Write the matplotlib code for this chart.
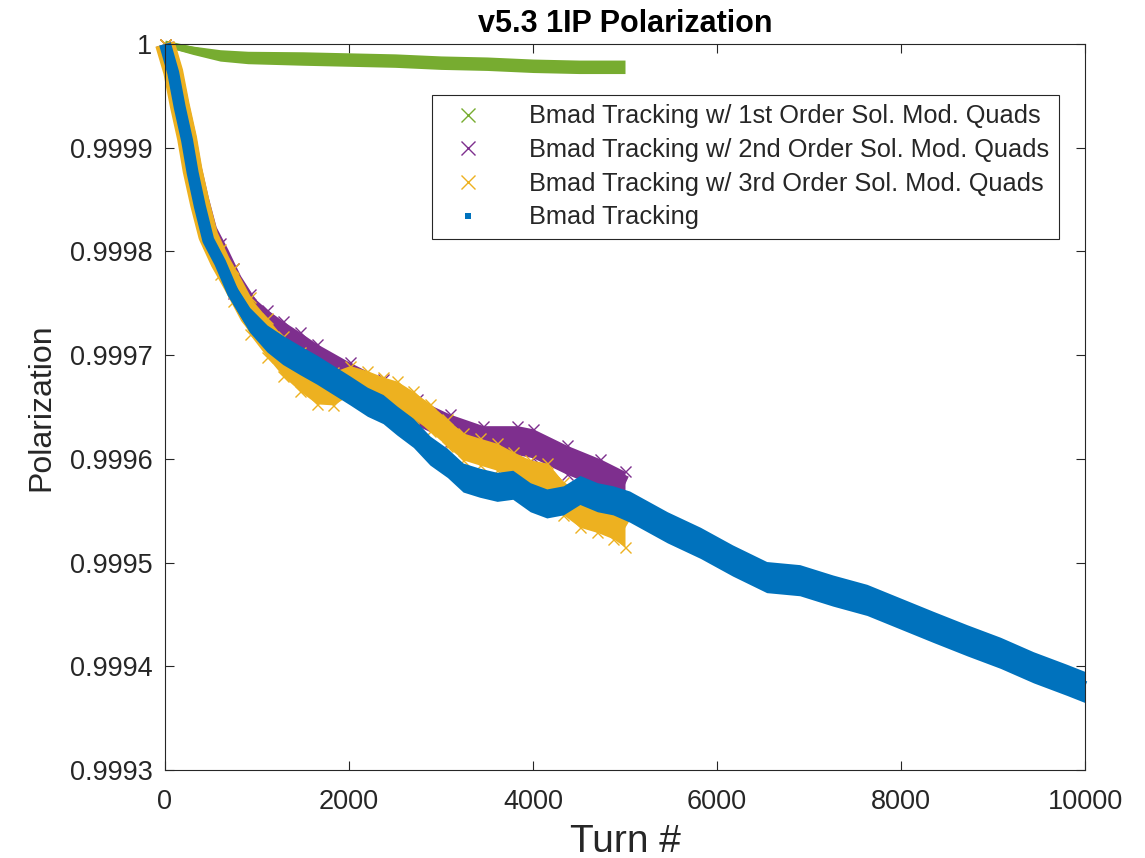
import numpy as np
import matplotlib
matplotlib.use("Agg")
import matplotlib.pyplot as plt
from matplotlib.lines import Line2D

plt.rcParams['font.family'] = ['Liberation Sans', 'DejaVu Sans']

# ---------------- data ----------------
title = "v5.3 1IP Polarization"
xlabel = "Turn #"
ylabel = "Polarization"
labels = ["Bmad Tracking w/ 1st Order Sol. Mod. Quads",
          "Bmad Tracking w/ 2nd Order Sol. Mod. Quads",
          "Bmad Tracking w/ 3rd Order Sol. Mod. Quads",
          "Bmad Tracking"]
xticks = [0, 2000, 4000, 6000, 8000, 10000]
yticks = [0.9993, 0.9994, 0.9995, 0.9996, 0.9997, 0.9998, 0.9999, 1.0]
yticklabels = ["0.9993", "0.9994", "0.9995", "0.9996", "0.9997", "0.9998", "0.9999", "1"]

# 1st order (green): centre of the scatter band and its half-spread
turns_1st = [0, 100, 300, 600, 900, 1500, 2000, 2500, 3000, 3500, 4000, 4500, 5000]
pol_1st = [1.0, 0.999998, 0.999994, 0.999989, 0.999987, 0.999986, 0.999985,
           0.999984, 0.999982, 0.999981, 0.999979, 0.999978, 0.999978]
spread_1st = [0.000002, 0.000003, 0.000004, 0.0000055, 0.000006, 0.0000065, 0.0000065,
              0.0000065, 0.0000065, 0.0000065, 0.0000065, 0.0000065, 0.0000065]

# 2nd order (purple)
turns_2nd = [0, 90, 160, 240, 300, 380, 470, 600, 740, 920, 1110, 1280, 1470,
             1650, 2010, 2370, 2740, 3100, 3460, 3830, 4000, 4370, 4730, 5000]
pol_2nd = [1.0, 0.999974, 0.999943, 0.999911, 0.999881, 0.999850, 0.999820,
           0.999798, 0.999772, 0.999747, 0.999732, 0.999721, 0.999709, 0.999698,
           0.999680, 0.999664, 0.999645, 0.999630, 0.999618, 0.999618, 0.999615,
           0.999599, 0.999586, 0.999575]
spread_2nd = [0.0, 0.0, 0.0, 0.0, 0.0, 0.0, 0.000004, 0.00001, 0.000012,
              0.000012, 0.000012, 0.000012, 0.000013, 0.000013, 0.000013,
              0.000013, 0.000013, 0.000013, 0.000014, 0.000014, 0.000014,
              0.000014, 0.000014, 0.000013]

# 3rd order (orange)
turns_3rd = [0, 90, 160, 240, 300, 380, 470, 600, 740, 920, 1110, 1280, 1470,
             1650, 1830, 2010, 2200, 2370, 2520, 2700, 2880, 3070, 3240, 3420,
             3610, 3780, 3970, 4150, 4330, 4510, 4700, 4870, 5000]
pol_3rd = [1.0, 0.999973, 0.999941, 0.999909, 0.999878, 0.999846, 0.999815,
           0.999790, 0.999768, 0.999738, 0.999717, 0.999699, 0.999684, 0.999671,
           0.999668, 0.999676, 0.999672, 0.999666, 0.999662, 0.999652, 0.999640,
           0.999625, 0.999612, 0.999607, 0.999602, 0.999594, 0.999586, 0.999582,
           0.999562, 0.999551, 0.999546, 0.999540, 0.999533]
spread_3rd = [0.0, 0.0, 0.0, 0.0, 0.0, 0.0, 0.000006, 0.000012, 0.000016,
              0.000018, 0.000019, 0.000019, 0.000019, 0.000018, 0.000016,
              0.000014, 0.000013, 0.000013, 0.000013, 0.000013, 0.000013,
              0.000013, 0.000013, 0.000013, 0.000013, 0.000013, 0.000013,
              0.000014, 0.000016, 0.000017, 0.000017, 0.000017, 0.000018]

# plain tracking (blue)
turns_trk = [0, 90, 160, 240, 300, 380, 470, 600, 740, 920, 1110, 1280, 1470,
             1650, 1830, 2010, 2200, 2370, 2520, 2700, 2880, 3070, 3240, 3420,
             3610, 3780, 3970, 4150, 4330, 4510, 4700, 4870, 5050, 5460, 5820,
             6170, 6540, 6900, 7260, 7630, 7990, 8350, 8720, 9080, 9440, 9800,
             10000]
pol_trk = [1.0, 0.999972, 0.999939, 0.999907, 0.999876, 0.999843, 0.999811,
           0.999789, 0.999760, 0.999734, 0.999716, 0.999705, 0.999695, 0.999686,
           0.999676, 0.999666, 0.999655, 0.999648, 0.999637, 0.999625, 0.999608,
           0.999596, 0.999582, 0.999577, 0.999573, 0.999575, 0.999563, 0.999557,
           0.999560, 0.999570, 0.999563, 0.999560, 0.999554, 0.999534, 0.999519,
           0.999502, 0.999486, 0.999483, 0.999473, 0.999464, 0.999451, 0.999438,
           0.999425, 0.999413, 0.999399, 0.999387, 0.999380]
spread_trk = [0.0, 0.0, 0.0, 0.0, 0.0, 0.0, 0.000005, 0.000009, 0.000011,
              0.000012, 0.000013, 0.000014, 0.000014, 0.000014, 0.000014,
              0.000014, 0.000014, 0.000014, 0.000014, 0.000014, 0.000014,
              0.000014, 0.000014, 0.000014, 0.000014, 0.000014, 0.000014,
              0.000014, 0.000014, 0.000014, 0.000014, 0.000014, 0.000015,
              0.000015, 0.000015, 0.000015, 0.000015, 0.000015, 0.000015,
              0.000015, 0.000015, 0.000015, 0.000015, 0.000015, 0.000015,
              0.000015, 0.000015]

c_green = "#77AC30"
c_purple = "#7E2F8E"
c_orange = "#EDB120"
c_blue = "#0072BD"
dark = "#262626"

PX = 0.72  # points per pixel at dpi 100

fig = plt.figure(figsize=(11.45, 8.58), dpi=100)
ax = fig.add_axes([165 / 1145, 1 - 770 / 858, 920 / 1145, 726 / 858])


def band(turns, vals, spread, color, lw_px, marker, ms_px, z):
    t = np.asarray(turns, dtype=float)
    v = np.asarray(vals, dtype=float)
    s = np.asarray(spread, dtype=float)
    ax.fill_between(t, v - s, v + s, color=color, lw=0, zorder=z, clip_on=False)
    ax.plot(t, v, color=color, lw=lw_px * PX, solid_capstyle='butt',
            solid_joinstyle='round', zorder=z, clip_on=False)
    if marker is not None:
        for edge in (v + s, v - s):
            ax.plot(t, edge, ls='none', marker=marker, ms=ms_px * PX,
                    mew=1.0, color=color, zorder=z, clip_on=False)


band(turns_1st, pol_1st, spread_1st, c_green, 7, None, 0, 2)
band(turns_2nd, pol_2nd, spread_2nd, c_purple, 18, 'x', 11, 3)
band(turns_3rd, pol_3rd, spread_3rd, c_orange, 20, 'x', 11, 4)
band(turns_trk, pol_trk, spread_trk, c_blue, 12, None, 0, 5)

ax.set_xlim(0, 10000)
ax.set_ylim(0.9993, 1.0)
ax.set_xticks(xticks)
ax.set_xticklabels([str(v) for v in xticks])
ax.set_yticks(yticks)
ax.set_yticklabels(yticklabels)
ax.tick_params(direction='in', length=9 * PX, width=0.8, top=True, right=True,
               colors=dark, labelsize=19.5)
ax.tick_params(axis='y', pad=9)
ax.tick_params(axis='x', pad=14)
for sp in ax.spines.values():
    sp.set_color(dark)
    sp.set_linewidth(0.8)
    sp.set_zorder(10)

ax.set_title(title, fontsize=22, fontweight='bold', color='black', pad=8.6)
ax.set_xlabel(xlabel, fontsize=28, color=dark, labelpad=6)
ax.set_ylabel(ylabel, fontsize=23, color=dark)
ax.yaxis.set_label_coords((56 - 165) / 920, 0.5)

handles = [Line2D([], [], ls='none', marker='x', ms=10, mew=1, color=c_green),
           Line2D([], [], ls='none', marker='x', ms=10, mew=1, color=c_purple),
           Line2D([], [], ls='none', marker='x', ms=10, mew=1, color=c_orange),
           Line2D([], [], ls='none', marker='s', ms=4, mew=0, color=c_blue)]
leg = ax.legend(handles, labels, loc='upper left', bbox_to_anchor=(0.290, 0.930),
                fontsize=18.3, frameon=True, fancybox=False, edgecolor=dark,
                borderpad=0.38, labelspacing=0.38, handlelength=2.1,
                handletextpad=1.35, borderaxespad=0, framealpha=1)
leg.get_frame().set_linewidth(0.8)
leg.set_zorder(20)
for txt in leg.get_texts():
    txt.set_color(dark)

fig.savefig("out.png", dpi=100)
